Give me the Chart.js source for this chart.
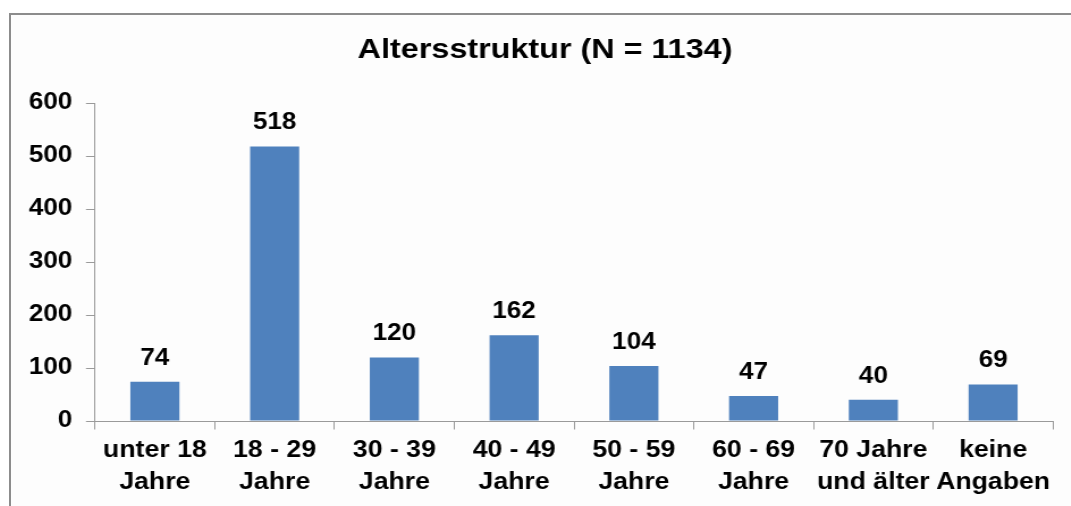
<!DOCTYPE html>
<html>
<head>
<meta charset="utf-8">
<script src="https://cdn.jsdelivr.net/npm/chart.js@4.4.0/dist/chart.umd.min.js"></script>
<style>
  html, body { margin: 0; padding: 0; background: #ffffff; overflow: hidden; }
  #frame {
    position: absolute; left: 9px; top: 13px; width: 1200px; height: 700px;
    border-left: 2px solid #8c8c8c; border-top: 2px solid #8c8c8c;
    background: #fdfdfd;
  }
  /* the drawing is laid out at 945px and widened to the frame's full width */
  #stage {
    position: absolute; left: 9px; top: 0; width: 945px; height: 506px;
    transform-origin: 0 0; transform: scaleX(1.1345);
  }
</style>
</head>
<body>
<div id="frame"></div>
<div id="stage"><canvas id="chart"></canvas></div>
<script>
// Age groups (two-line labels) and number of respondents per group
const categories = [
  ["unter 18", "Jahre"],
  ["18 - 29", "Jahre"],
  ["30 - 39", "Jahre"],
  ["40 - 49", "Jahre"],
  ["50 - 59", "Jahre"],
  ["60 - 69", "Jahre"],
  ["70 Jahre", "und älter"],
  ["keine", "Angaben"]
];
const counts = [74, 518, 120, 162, 104, 47, 40, 69];
const yTicks = [0, 100, 200, 300, 400, 500, 600];
const chartTitle = "Altersstruktur (N = 1134)";

const FONT = "'Liberation Sans', Arial, Helvetica, sans-serif";
const AXIS_GRAY = "#9a9a9a";
const BAR_BLUE = "#4f81bd";

Chart.defaults.font.family = FONT;
Chart.defaults.color = "#000000";

// Title centred on the whole chart frame (not just the plot area)
const frameTitle = {
  id: "frameTitle",
  afterDraw(chart, args, opts) {
    const ctx = chart.ctx;
    ctx.save();
    ctx.font = "bold 28.5px " + FONT;
    ctx.fillStyle = "#000000";
    ctx.textAlign = "center";
    ctx.textBaseline = "middle";
    ctx.fillText(opts.text, chart.width / 2, opts.middle);
    ctx.restore();
  }
};

// Value labels above each bar
const valueLabels = {
  id: "valueLabels",
  afterDatasetsDraw(chart) {
    const ctx = chart.ctx;
    const meta = chart.getDatasetMeta(0);
    ctx.save();
    ctx.font = "bold 23px " + FONT;
    ctx.fillStyle = "#000000";
    ctx.textAlign = "center";
    ctx.textBaseline = "alphabetic";
    meta.data.forEach((bar, i) => {
      const v = chart.data.datasets[0].data[i];
      ctx.fillText(String(v), bar.x, bar.y - 17);
    });
    ctx.restore();
  }
};

new Chart(document.getElementById("chart"), {
  type: "bar",
  data: {
    labels: categories,
    datasets: [{
      data: counts,
      backgroundColor: BAR_BLUE,
      borderWidth: 0,
      barPercentage: 0.41,
      categoryPercentage: 1.0
    }]
  },
  options: {
    responsive: true,
    maintainAspectRatio: false,
    animation: false,
    layout: { padding: { left: 0, right: 24.8, top: 103, bottom: 0 } },
    plugins: {
      legend: { display: false },
      tooltip: { enabled: false },
      title: { display: false },
      frameTitle: { text: chartTitle, middle: 50 }
    },
    scales: {
      x: {
        grid: {
          display: true,
          offset: true,
          drawOnChartArea: false,
          drawTicks: true,
          tickLength: 8.5,
          color: AXIS_GRAY
        },
        border: { display: true, color: AXIS_GRAY, width: 1 },
        ticks: {
          color: "#000000",
          padding: 6,
          maxRotation: 0,
          autoSkip: false,
          font: { size: 23.5, weight: "bold", lineHeight: 1.32 }
        },
        afterFit(scale) { scale.height = 85; }
      },
      y: {
        min: 0,
        max: 600,
        afterBuildTicks(scale) { scale.ticks = yTicks.map(v => ({ value: v })); },
        grid: {
          display: true,
          drawOnChartArea: false,
          drawTicks: true,
          tickLength: 8,
          color: AXIS_GRAY
        },
        border: { display: true, color: AXIS_GRAY, width: 1 },
        ticks: {
          color: "#000000",
          padding: 12,
          font: { size: 23, weight: "bold" }
        },
        afterFit(scale) { scale.width = 75.8; }
      }
    }
  },
  plugins: [valueLabels, frameTitle]
});
</script>
</body>
</html>
